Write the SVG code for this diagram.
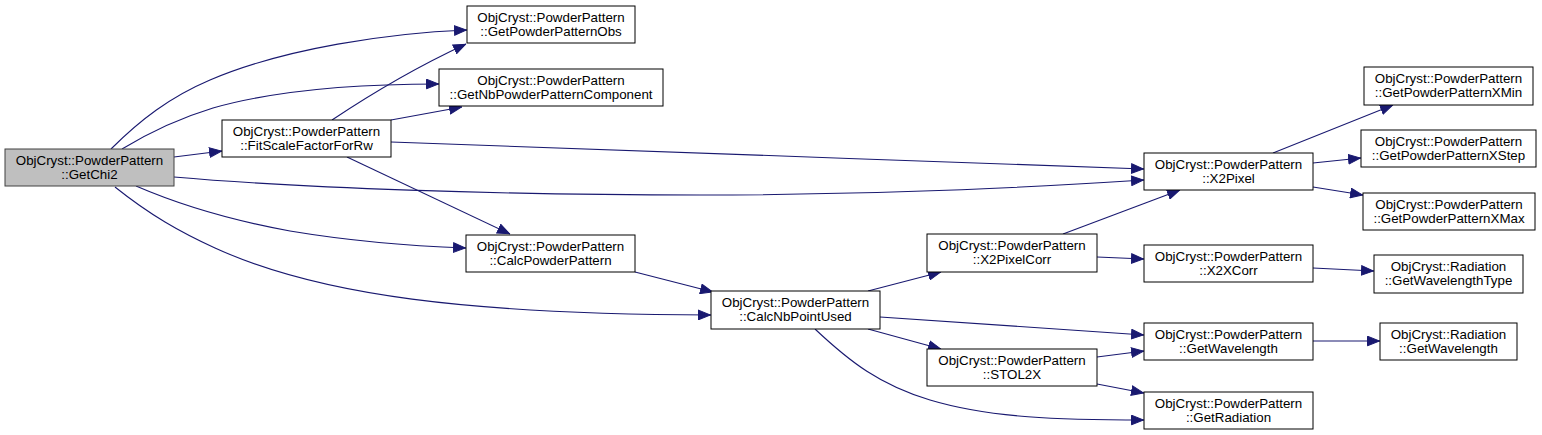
<svg xmlns="http://www.w3.org/2000/svg" width="1542" height="435" viewBox="0 0 1542 435">
<defs>
<style>
.n rect{fill:#fff;stroke:#000;stroke-width:1}
.n.cur rect{fill:#bfbfbf;stroke:#404040}
.n text{font-family:"Liberation Sans",Arial,Helvetica,sans-serif;font-size:13.33px;fill:#000;text-anchor:middle}
.e path{fill:none;stroke:#191970;stroke-width:1.1;marker-end:url(#a)}
</style>
<marker id="a" viewBox="0 0 13 11" refX="13" refY="5.5" markerWidth="13" markerHeight="11" markerUnits="userSpaceOnUse" orient="auto">
<path d="M0.5,0.7 L12.5,5.5 L0.5,10.3 z" fill="#191970" stroke="#191970" stroke-width="1"/>
</marker>
</defs>
<rect width="1542" height="435" fill="#fff"/>
<g id="edges" class="e">
<path d="M111,149 C140,120 170,97 210,80 C285,48 390,33 467,30"/>
<path d="M122,149 C150,132 180,118 213,108 C280,89 370,84 439,84"/>
<path d="M174,157 L222,151"/>
<path d="M174,177 C300,188 500,195 700,195 C900,195 1050,186 1144,180"/>
<path d="M136,186 C180,205 230,220 290,231 C350,241 410,246 466,248"/>
<path d="M115,187 C150,215 180,232 215,248 C320,296 470,314 711,315"/>
<path d="M332,120 C365,98 410,70 466,44"/>
<path d="M391,120 L462,107"/>
<path d="M391,142 C600,150 900,160 1144,169"/>
<path d="M347,157 L510,234"/>
<path d="M635,272 L713,292"/>
<path d="M868,291 L941,272"/>
<path d="M880,317 L1144,335"/>
<path d="M868,329 L941,349"/>
<path d="M815,329 C850,362 880,385 930,400 C990,418 1060,420 1144,420"/>
<path d="M1097,357 L1144,351"/>
<path d="M1097,384 L1144,393"/>
<path d="M1063,234 L1180,190"/>
<path d="M1097,257 L1144,259"/>
<path d="M1273,153 L1393,105"/>
<path d="M1313,163 L1361,158"/>
<path d="M1313,187 L1363,195"/>
<path d="M1313,268 L1374,271"/>
<path d="M1313,341 L1380,341"/>
</g>
<g id="GetChi2" class="n cur"><rect x="5" y="149" width="169" height="37"/><text x="89.5" y="165">ObjCryst::PowderPattern</text><text x="89.5" y="179">::GetChi2</text></g>
<g id="FitScaleFactorForRw" class="n"><rect x="222" y="120" width="169" height="37"/><text x="306.5" y="136">ObjCryst::PowderPattern</text><text x="306.5" y="150">::FitScaleFactorForRw</text></g>
<g id="GetPowderPatternObs" class="n"><rect x="467" y="6" width="168" height="37"/><text x="551" y="22">ObjCryst::PowderPattern</text><text x="551" y="36">::GetPowderPatternObs</text></g>
<g id="GetNbPowderPatternComponent" class="n"><rect x="439" y="69" width="224" height="37"/><text x="551" y="85">ObjCryst::PowderPattern</text><text x="551" y="99">::GetNbPowderPatternComponent</text></g>
<g id="CalcPowderPattern" class="n"><rect x="466" y="235" width="169" height="37"/><text x="550.5" y="251">ObjCryst::PowderPattern</text><text x="550.5" y="265">::CalcPowderPattern</text></g>
<g id="CalcNbPointUsed" class="n"><rect x="711" y="291" width="169" height="38"/><text x="795.5" y="307">ObjCryst::PowderPattern</text><text x="795.5" y="321">::CalcNbPointUsed</text></g>
<g id="X2PixelCorr" class="n"><rect x="927" y="234" width="170" height="38"/><text x="1012" y="250">ObjCryst::PowderPattern</text><text x="1012" y="264">::X2PixelCorr</text></g>
<g id="STOL2X" class="n"><rect x="927" y="349" width="170" height="37"/><text x="1012" y="365">ObjCryst::PowderPattern</text><text x="1012" y="379">::STOL2X</text></g>
<g id="X2Pixel" class="n"><rect x="1144" y="153" width="169" height="37"/><text x="1228.5" y="169">ObjCryst::PowderPattern</text><text x="1228.5" y="183">::X2Pixel</text></g>
<g id="X2XCorr" class="n"><rect x="1144" y="245" width="169" height="37"/><text x="1228.5" y="261">ObjCryst::PowderPattern</text><text x="1228.5" y="275">::X2XCorr</text></g>
<g id="GetWavelength" class="n"><rect x="1144" y="323" width="169" height="37"/><text x="1228.5" y="339">ObjCryst::PowderPattern</text><text x="1228.5" y="353">::GetWavelength</text></g>
<g id="GetRadiation" class="n"><rect x="1144" y="392" width="169" height="37"/><text x="1228.5" y="408">ObjCryst::PowderPattern</text><text x="1228.5" y="422">::GetRadiation</text></g>
<g id="GetPowderPatternXMin" class="n"><rect x="1364" y="67" width="169" height="38"/><text x="1448.5" y="83">ObjCryst::PowderPattern</text><text x="1448.5" y="97">::GetPowderPatternXMin</text></g>
<g id="GetPowderPatternXStep" class="n"><rect x="1361" y="130" width="175" height="37"/><text x="1448.5" y="146">ObjCryst::PowderPattern</text><text x="1448.5" y="160">::GetPowderPatternXStep</text></g>
<g id="GetPowderPatternXMax" class="n"><rect x="1363" y="193" width="172" height="37"/><text x="1449" y="209">ObjCryst::PowderPattern</text><text x="1449" y="223">::GetPowderPatternXMax</text></g>
<g id="GetWavelengthType" class="n"><rect x="1374" y="255" width="149" height="38"/><text x="1448.5" y="271">ObjCryst::Radiation</text><text x="1448.5" y="285">::GetWavelengthType</text></g>
<g id="RadiationGetWavelength" class="n"><rect x="1380" y="323" width="137" height="37"/><text x="1448.5" y="339">ObjCryst::Radiation</text><text x="1448.5" y="353">::GetWavelength</text></g>
</svg>
